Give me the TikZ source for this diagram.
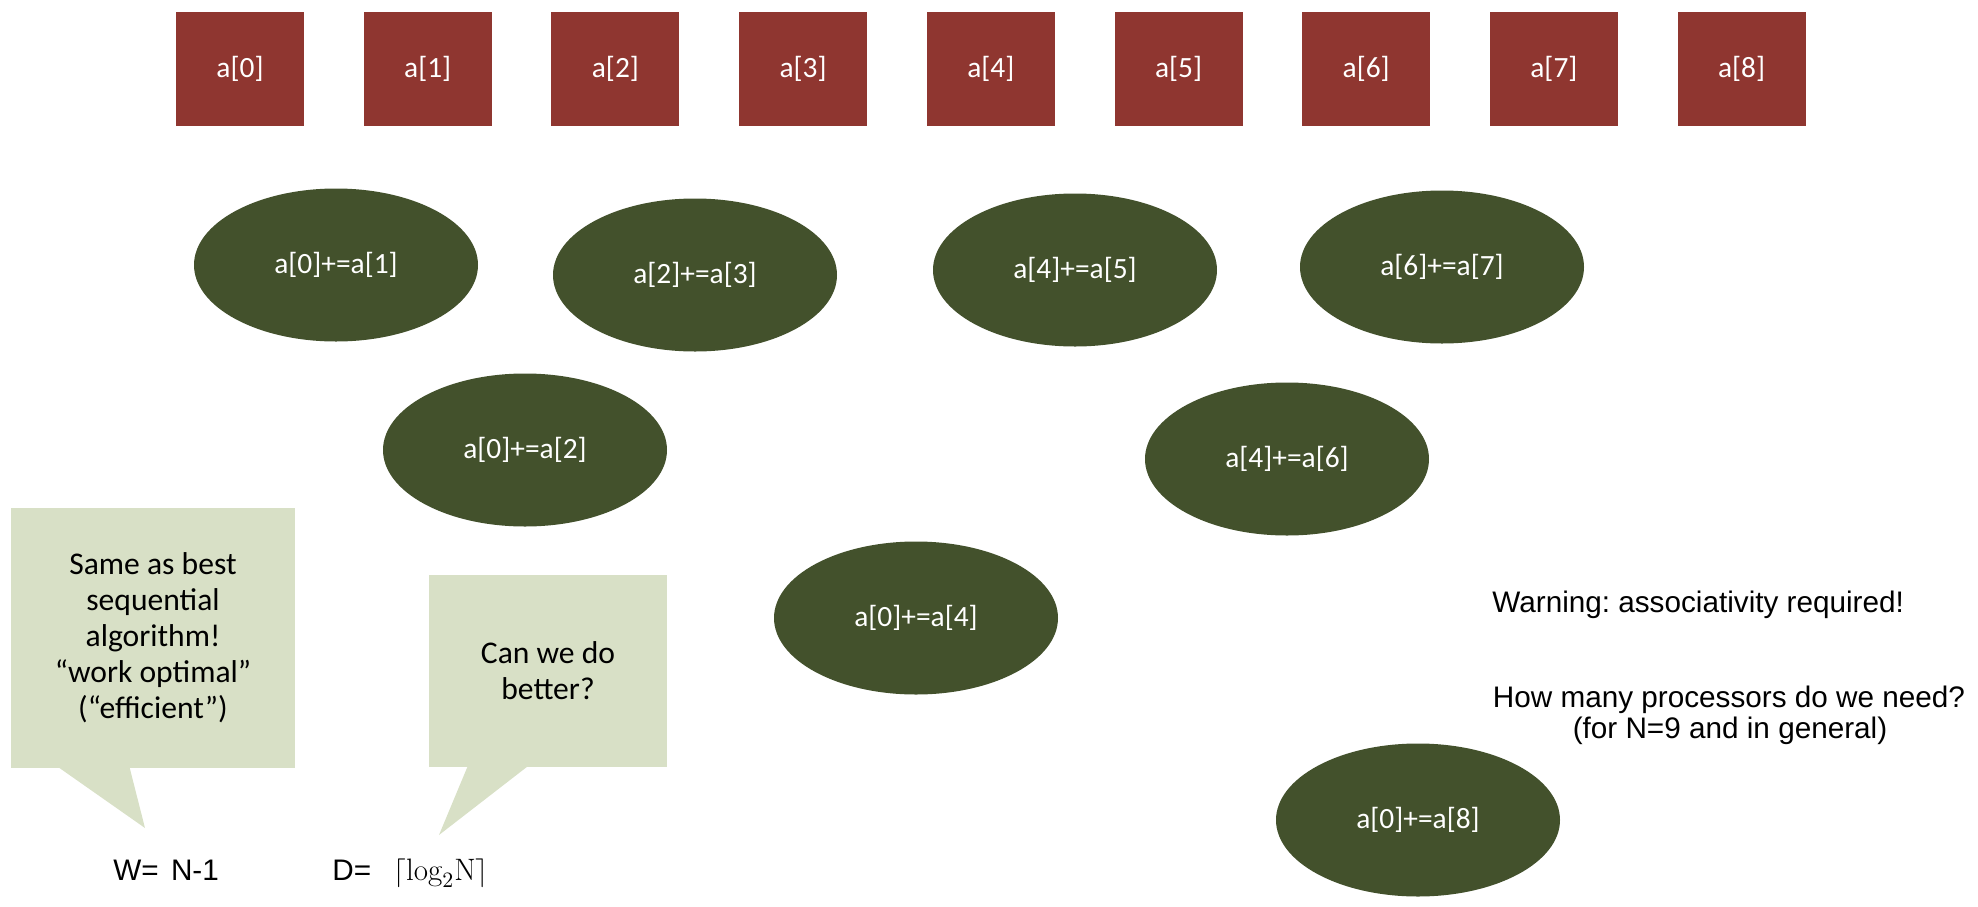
\documentclass[tikz,border=0pt]{standalone}
\usepackage{fontspec}
\newfontfamily\cali{Carlito}
\newfontfamily\arial{Liberation Sans}
\usetikzlibrary{shapes.geometric}
\definecolor{boxred}{RGB}{143,54,48}
\definecolor{olive}{RGB}{67,81,44}
\definecolor{callgreen}{RGB}{216,224,198}
\frenchspacing
\tikzset{
  arr/.style={rectangle, fill=boxred, minimum width=64pt, minimum height=57pt, inner sep=0pt,
    text=white, font=\cali\fontsize{14.7}{17}\selectfont},
  op/.style={ellipse, fill=olive, minimum width=142pt, minimum height=76.5pt, inner sep=0pt,
    text=white, font=\cali\fontsize{14.7}{17}\selectfont},
  callbox/.style={rectangle, fill=callgreen, inner sep=0pt, align=center,
    font=\cali\fontsize{15.8}{18}\selectfont},
  plain/.style={anchor=base west, inner sep=0pt, font=\arial\fontsize{14.85}{15.5}\selectfont},
}
\begin{document}
\begin{tikzpicture}[x=0.5pt,y=-0.5pt]
\path[use as bounding box] (0,0) rectangle (1978,906);
% array cells
\foreach \i in {0,...,8}{
  \node[arr] (a\i) at ({240+187.7*\i},69) {a[\i]};
}
% reduction operations
\node[op] (e01) at (336,265) {a[0]+=a[1]};
\node[op] (e23) at (695,275) {a[2]+=a[3]};
\node[op] (e45) at (1075,270) {a[4]+=a[5]};
\node[op] (e67) at (1442,267) {a[6]+=a[7]};
\node[op] (e02) at (525,450) {a[0]+=a[2]};
\node[op] (e46) at (1287,459) {a[4]+=a[6]};
\node[op] (e04) at (916,618) {a[0]+=a[4]};
\node[op] (e08) at (1418,820) {a[0]+=a[8]};
% callouts
\node[callbox, minimum width=142pt, minimum height=130pt] (c1) at (153,638)
  {Same as best\\sequential\\algorithm!\\“work optimal”\\(“efficient”)};
\coordinate (t1) at (145,828);
\fill[callgreen] ([xshift=24pt,yshift=0.5pt]c1.south west) -- (t1) -- ([xshift=59.5pt,yshift=0.5pt]c1.south west) -- cycle;
\node[callbox, minimum width=119pt, minimum height=96pt] (c2) at (548,671)
  {Can we do\\better?};
\coordinate (t2) at (439,835);
\fill[callgreen] ([xshift=19.5pt,yshift=0.5pt]c2.south west) -- (t2) -- ([xshift=49.5pt,yshift=0.5pt]c2.south west) -- cycle;
% formulas
\node[plain] (w) at (113,880) {W=\hspace{2pt} N-1};
\node[plain] (d) at (332,880) {D=};
\node[anchor=base west, inner sep=0pt, font=\fontsize{15.5}{18}\selectfont] (dv) at (393,880) {$\lceil\mathrm{log}_2\mathrm{N}\rceil$};
% notes
\node[plain] (warn) at (1492,612) {Warning: associativity required!};
\node[plain, anchor=base] (hm1) at (1729,707) {How many processors do we need?};
\node[plain, anchor=base] (hm2) at (1730,738) {(for N=9 and in general)};
\end{tikzpicture}
\end{document}
